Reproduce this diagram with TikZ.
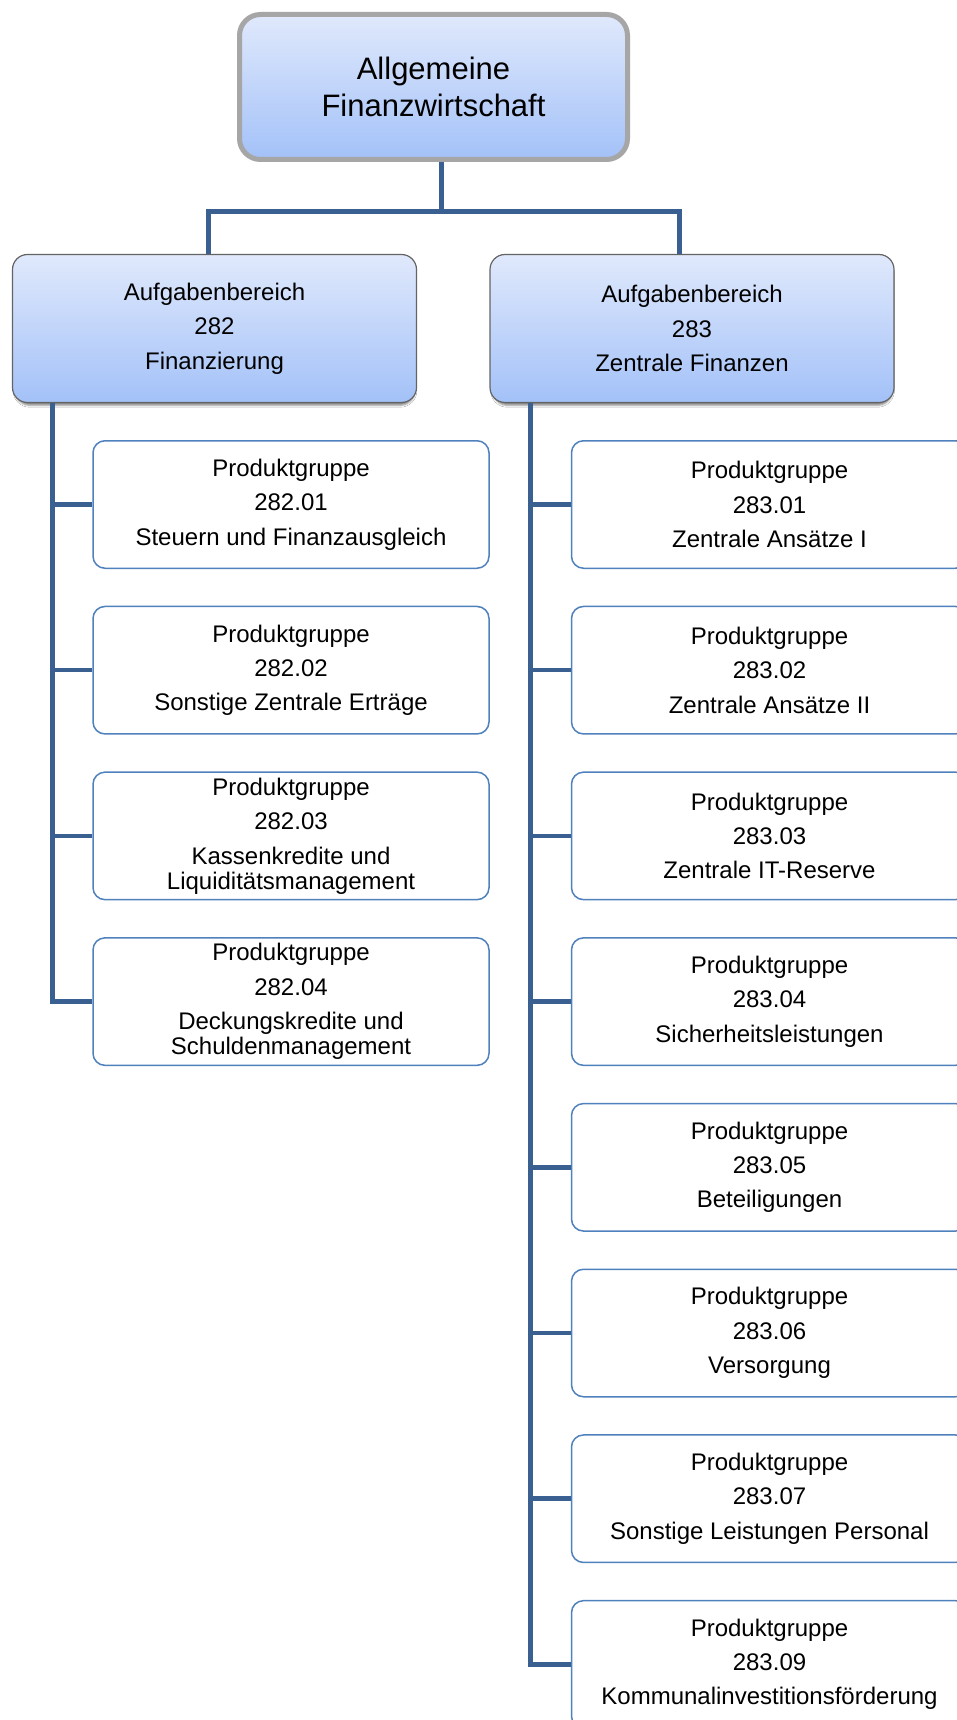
\documentclass[tikz,border=0pt]{standalone}
\usepackage{fontspec}
\setmainfont{Liberation Sans}
\usetikzlibrary{shadows,shadows.blur}
\definecolor{conncol}{RGB}{58,96,146}
\definecolor{gradtop}{RGB}{224,233,252}
\definecolor{gradbot}{RGB}{163,193,248}
\definecolor{topborder}{RGB}{166,166,166}
\definecolor{midborder}{RGB}{100,100,100}
\definecolor{pborder}{RGB}{79,129,189}
\tikzset{
  topbox/.style={draw=topborder, line width=5pt, rounded corners=21pt,
    top color=gradtop, bottom color=gradbot, inner sep=0pt,
    minimum width=388pt, minimum height=145pt, align=center,
    font=\fontsize{31}{37.4}\selectfont},
  areabox/.style={draw=midborder, line width=1.2pt, rounded corners=15pt,
    top color=gradtop, bottom color=gradbot, inner sep=0pt,
    minimum width=404pt, minimum height=148pt, align=center,
    font=\fontsize{24}{25}\selectfont,
    blur shadow={shadow xshift=0.5pt, shadow yshift=-3.5pt, shadow blur radius=2pt, shadow blur extra rounding=0pt, shadow scale=0.99, shadow opacity=50}},
  prodbox/.style={draw=pborder, line width=1.5pt, rounded corners=12pt,
    fill=white, inner sep=0pt, minimum width=396pt, minimum height=127.5pt,
    align=center, font=\fontsize{24}{25}\selectfont},
  conn/.style={draw=conncol, line width=5pt},
  branch/.style={draw=conncol, line width=4.5pt}
}
\begin{document}
\begin{tikzpicture}[x=1pt,y=-1pt]
\useasboundingbox (0,0) rectangle (957,1720);
\clip (0,0) rectangle (957,1720);
\fill[white] (0,0) rectangle (957,1720);

% connector coordinates
\coordinate (j)  at (441,212);
\coordinate (ja) at (208,212);
\coordinate (jb) at (679,212);
\coordinate (la) at (52.5,0);
\coordinate (lb) at (530.5,0);

% top
\node[topbox] (T) at (433.5,87) {Allgemeine\\Finanzwirtschaft};

% level 2
\node[areabox] (A) at (214.5,328.5) {Aufgabenbereich\\[9.5pt]282\\[9.5pt]Finanzierung};
\node[areabox] (B) at (692,328.5) {Aufgabenbereich\\[9.5pt]283\\[9.5pt]Zentrale Finanzen};

% left product groups
\node[prodbox] (p1) at (291,504.5)  {Produktgruppe\\[9.3pt]282.01\\[9.3pt]Steuern und Finanzausgleich};
\node[prodbox] (p2) at (291,670.2)  {Produktgruppe\\[9.3pt]282.02\\[9.3pt]Sonstige Zentrale Erträge};
\node[prodbox] (p3) at (291,835.9)  {Produktgruppe\\[9.5pt]282.03\\[9.5pt]Kassenkredite und\\Liquiditätsmanagement};
\node[prodbox] (p4) at (291,1001.6) {Produktgruppe\\[9.5pt]282.04\\[9.5pt]Deckungskredite und\\Schuldenmanagement};

% right product groups
\node[prodbox] (q1) at (769.5,504.5)  {Produktgruppe\\[9.3pt]283.01\\[9.3pt]Zentrale Ansätze I};
\node[prodbox] (q2) at (769.5,670.2)  {Produktgruppe\\[9.3pt]283.02\\[9.3pt]Zentrale Ansätze II};
\node[prodbox] (q3) at (769.5,835.9)  {Produktgruppe\\[9.3pt]283.03\\[9.3pt]Zentrale IT-Reserve};
\node[prodbox] (q4) at (769.5,1001.6) {Produktgruppe\\[9.3pt]283.04\\[9.3pt]Sicherheitsleistungen};
\node[prodbox] (q5) at (769.5,1167.3) {Produktgruppe\\[9.3pt]283.05\\[9.3pt]Beteiligungen};
\node[prodbox] (q6) at (769.5,1333.0) {Produktgruppe\\[9.3pt]283.06\\[9.3pt]Versorgung};
\node[prodbox] (q7) at (769.5,1498.7) {Produktgruppe\\[9.3pt]283.07\\[9.3pt]Sonstige Leistungen Personal};
\node[prodbox] (q8) at (769.5,1664.4) {Produktgruppe\\[9.3pt]283.09\\[9.3pt]Kommunalinvestitionsförderung};

% top connectors
\draw[conn] (j |- T.south) -- (j);
\draw[conn] (ja |- A.north) -- (ja) -- (jb) -- (jb |- B.north);

% left column
\draw[conn] (la |- A.south) -- (la |- p4.west);
\foreach \n in {p1,p2,p3} \draw[branch] (la |- \n.west) -- (\n.west);
\draw[branch] ([xshift=-2.5pt]la |- p4.west) -- (p4.west);

% right column
\draw[conn] (lb |- B.south) -- (lb |- q8.west);
\foreach \n in {q1,q2,q3,q4,q5,q6,q7} \draw[branch] (lb |- \n.west) -- (\n.west);
\draw[branch] ([xshift=-2.5pt]lb |- q8.west) -- (q8.west);
\end{tikzpicture}
\end{document}
